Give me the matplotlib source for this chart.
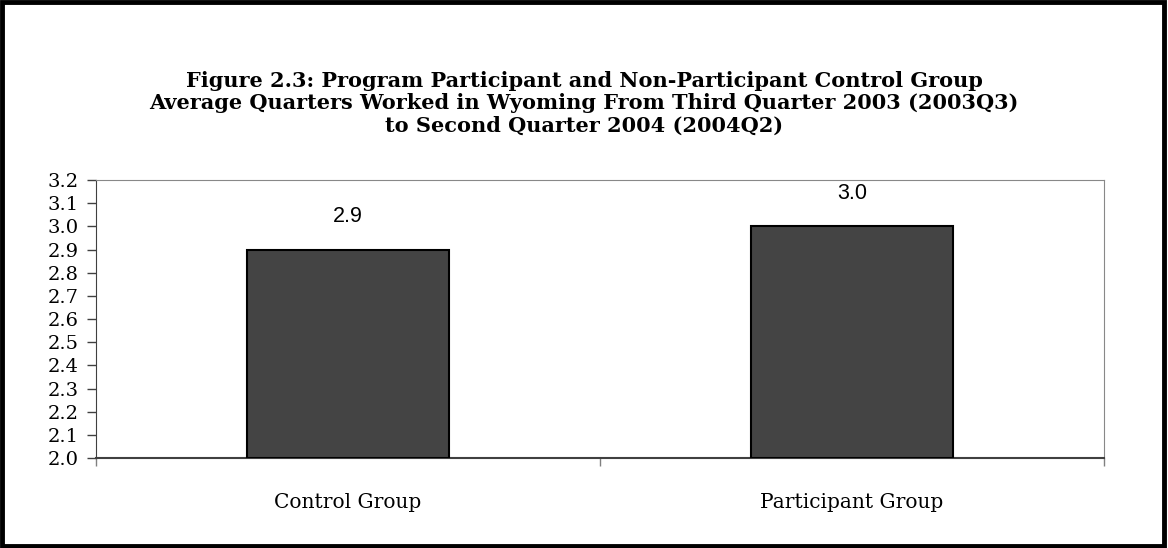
import matplotlib.pyplot as plt
from matplotlib.patches import Rectangle

categories = ["Control Group", "Participant Group"]
values = [2.9, 3.0]
value_labels = ["2.9", "3.0"]
y_ticks = [2.0, 2.1, 2.2, 2.3, 2.4, 2.5, 2.6, 2.7, 2.8, 2.9, 3.0, 3.1, 3.2]
title = ("Figure 2.3: Program Participant and Non-Participant Control Group\n"
         "Average Quarters Worked in Wyoming From Third Quarter 2003 (2003Q3)\n"
         "to Second Quarter 2004 (2004Q2)")

W, H = 1168, 548
fig = plt.figure(figsize=(W / 100, H / 100), dpi=100)
# black frame around the whole chart
fig.patches.append(Rectangle((0.0015, 0.003), 0.9955, 0.994, transform=fig.transFigure,
                             fill=False, edgecolor='black', linewidth=3.5))

ax = fig.add_axes([96 / W, 1 - 458 / H, (1104 - 96) / W, (458 - 180) / H])
x = list(range(len(categories)))
ax.bar(x, [v - 2.0 for v in values], bottom=2.0, width=0.4, color='#444444',
       edgecolor='black', linewidth=1.5, zorder=3)
for xi, v, lab in zip(x, values, value_labels):
    ax.annotate(lab, (xi, v), xytext=(0, 16), textcoords='offset points',
                ha='center', va='bottom', fontsize=15.5, family='Liberation Sans')

ax.set_xlim(-0.5, len(categories) - 0.5)
ax.set_ylim(2.0, 3.2)
ax.set_yticks(y_ticks)
ax.set_yticklabels([f"{t:.1f}" for t in y_ticks], family='DejaVu Serif', fontsize=14)
ax.set_xticks(x)
ax.set_xticklabels(categories, family='DejaVu Serif', fontsize=14.5)
ax.tick_params(axis='x', length=0, pad=25)
ax.tick_params(axis='y', length=6.5, width=1, color='#404040', pad=6)
ax.set_xticks([-0.5, 0.5, 1.5], minor=True)
ax.tick_params(axis='x', which='minor', length=6, width=1, color='#808080')

ax.spines['left'].set_color('#404040')
ax.spines['bottom'].set_color('#404040')
ax.spines['bottom'].set_linewidth(1.5)
ax.spines['top'].set_color('#888888')
ax.spines['right'].set_color('#888888')

fig.text(0.5, 1 - 103 / H, title, ha='center', va='center', fontsize=15,
         fontweight='bold', family='DejaVu Serif', linespacing=1.15)

fig.savefig("out.png", dpi=100)
